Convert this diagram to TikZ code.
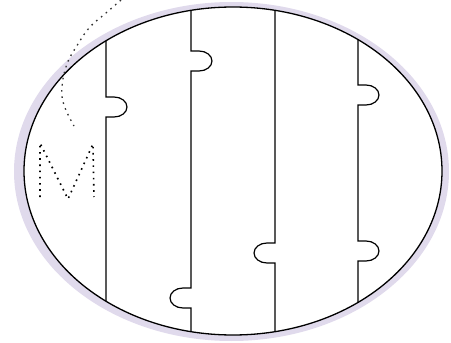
\documentclass[tikz,border=0pt]{standalone}
\definecolor{rim}{RGB}{224,218,236}
\begin{document}
\begin{tikzpicture}[x=1pt,y=-1pt,line width=1.2pt,
  dots/.style={line width=1.6pt,dash pattern=on 1.6pt off 4.6pt}]
\useasboundingbox (0,0) rectangle (451,343);
\coordinate (c) at (233,171); \coordinate (g) at (231.5,171.5);
\fill[rim] (g) ellipse (217.5 and 169.5);
\fill[white] (c) ellipse (209 and 164);
% walls with knobs
\begin{scope}
\clip (c) ellipse (209 and 164);
\draw (106,0) -- (106,97) -- ++(8,0) arc[start angle=-90,end angle=90,x radius=13,y radius=10] -- (106,117) -- (106,343);
\draw (191,0) -- (191,51) -- ++(8,0) arc[start angle=-90,end angle=90,x radius=13,y radius=10] -- (191,71)
  -- (191,288) -- ++(-8,0) arc[start angle=-90,end angle=-270,x radius=13,y radius=10] -- (191,308) -- (191,343);
\draw (275,0) -- (275,243) -- ++(-8,0) arc[start angle=-90,end angle=-270,x radius=13,y radius=10] -- (275,263) -- (275,343);
\draw (358,0) -- (358,85) -- ++(8,0) arc[start angle=-90,end angle=90,x radius=13,y radius=10] -- (358,105)
  -- (358,241) -- ++(8,0) arc[start angle=-90,end angle=90,x radius=13,y radius=10] -- (358,261) -- (358,343);
\end{scope}
\draw[line width=1.3pt] (c) ellipse (209 and 164);
% dotted marks
\draw[dots,line width=1.3pt,black!80] plot[smooth,tension=.7] coordinates {(121,0) (106,13) (90,27) (78,44) (67,64) (62,87) (64,105) (74,126)};
\draw[dots] (40,197) -- (40,143) -- (68,199) -- (93,144) -- (94,197);
\end{tikzpicture}
\end{document}
